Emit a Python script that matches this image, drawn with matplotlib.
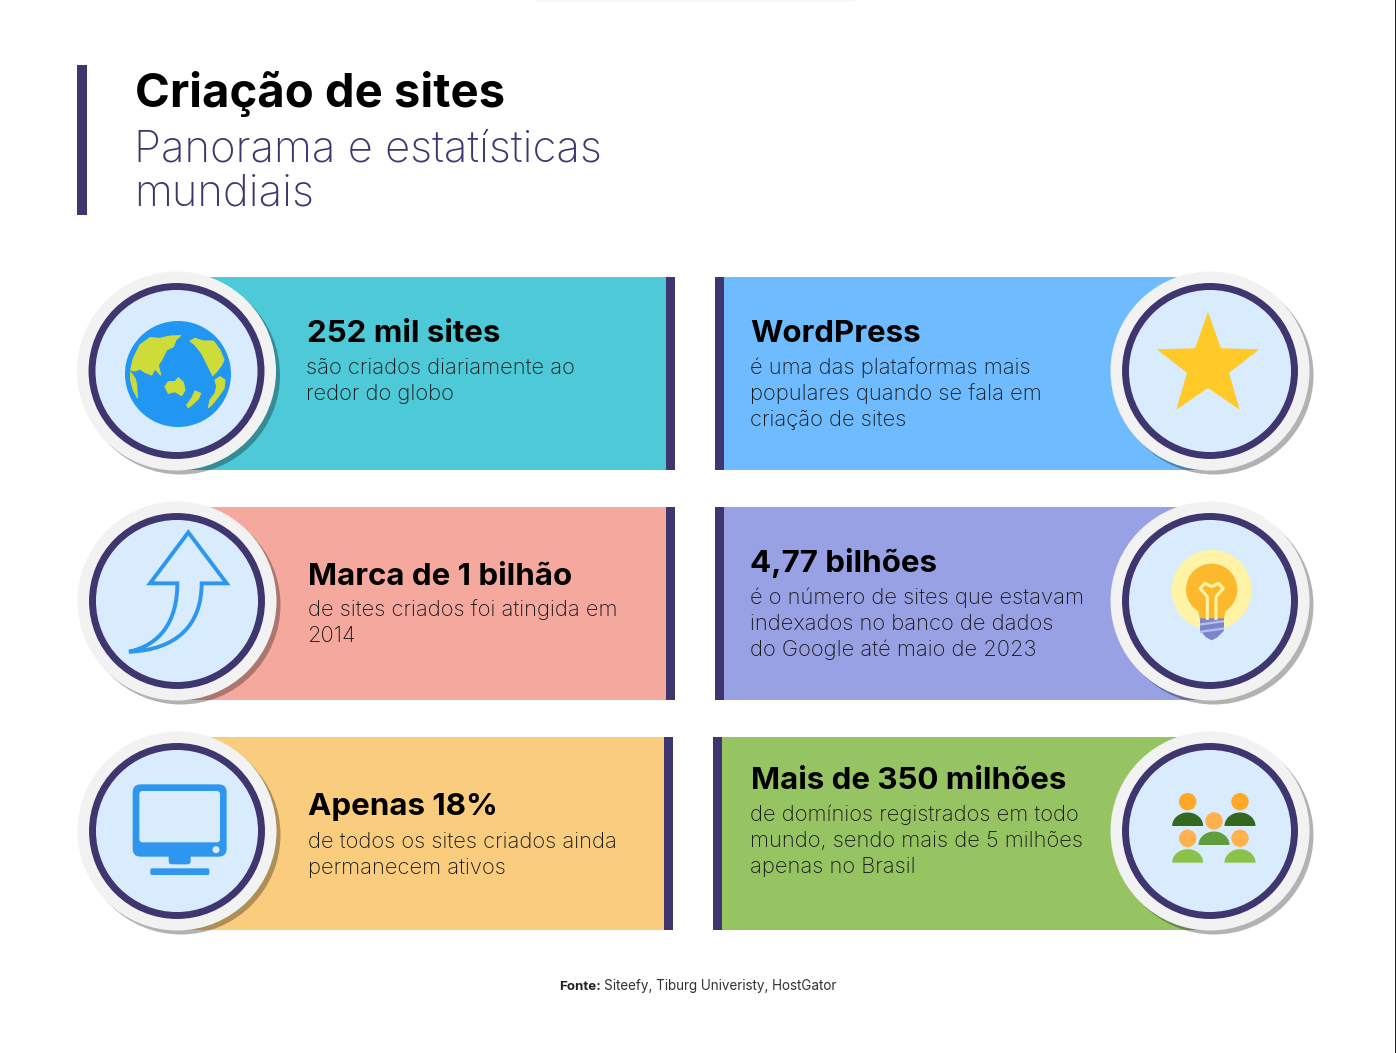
import numpy as np
import matplotlib
matplotlib.use("Agg")
import matplotlib.pyplot as plt
from matplotlib.patches import Circle, Rectangle, Polygon, FancyBboxPatch, PathPatch
from matplotlib.path import Path

plt.rcParams['font.family'] = ['Inter', 'DejaVu Sans']

NAVY = "#3f3670"
ICON_BLUE = "#2e96ee"
PALE = "#d8ecfd"

titles = ["252 mil sites", "WordPress", "Marca de 1 bilhão", "4,77 bilhões", "Apenas 18%", "Mais de 350 milhões"]
bodies = [
    ["são criados diariamente ao", "redor do globo"],
    ["é uma das plataformas mais", "populares quando se fala em", "criação de sites"],
    ["de sites criados foi atingida em", "2014"],
    ["é o número de sites que estavam", "indexados no banco de dados", "do Google até maio de 2023"],
    ["de todos os sites criados ainda", "permanecem ativos"],
    ["de domínios registrados em todo", "mundo, sendo mais de 5 milhões", "apenas no Brasil"],
]
card_colors = ["#4ec9d8", "#6ebcff", "#f5a99e", "#98a1e3", "#f9cd7d", "#97c463"]

# card box: top, left, right, bar side
card_top = [277, 277, 507, 507, 737, 737]
card_x0 = [180, 715, 180, 715, 180, 713]
card_x1 = [675, 1210, 675, 1210, 673, 1210]
circle_xy = [(176.5, 371), (1210, 371), (177, 601), (1210, 601), (177, 831), (1210, 831)]
text_x = [307, 750, 308, 750, 308, 751]
title_base = [342, 342, 585, 572, 815, 789]
body_base = [373.5, 373.5, 616.5, 603.5, 847.5, 821]


def circle_badge(ax, x, y):
    ax.add_patch(Circle((x + 4, y + 4), 99.5, fc="black", alpha=0.3, lw=0, zorder=3))
    ax.add_patch(Circle((x, y), 99.5, fc="#f2f2f2", lw=0, zorder=4))
    ax.add_patch(Circle((x, y), 84.5, fc=PALE, ec=NAVY, lw=5.0, zorder=5))


def zoom_pts(pts, x0, y0):
    return [(x0 + a / 3, y0 + b / 3) for a, b in pts]


def draw_globe(ax):
    x0, y0 = 70, 265
    ax.add_patch(Circle((178, 374), 53, fc="#2196f3", lw=0, zorder=6))
    lands = [
        [(182, 315), (190, 280), (210, 240), (240, 218), (270, 220), (300, 213), (332, 212), (318, 225),
         (310, 245), (290, 255), (275, 285), (265, 300), (272, 330), (255, 312), (245, 330), (225, 322),
         (210, 312), (195, 318)],
        [(182, 322), (195, 340), (200, 360), (202, 398), (190, 375), (182, 345)],
        [(360, 228), (375, 220), (400, 228), (430, 228), (450, 255), (462, 285), (455, 300), (440, 320),
         (428, 332), (415, 305), (395, 265), (375, 240)],
        [(435, 345), (450, 335), (465, 345), (462, 370), (445, 395), (425, 420), (415, 428), (420, 405),
         (435, 385), (440, 365)],
        [(285, 365), (295, 350), (315, 350), (325, 338), (340, 352), (345, 375), (335, 392), (315, 380), (295, 385)],
        [(350, 420), (365, 400), (375, 378), (392, 385), (385, 402), (365, 420), (355, 428)],
    ]
    for land in lands:
        ax.add_patch(Polygon(zoom_pts(land, x0, y0), fc="#cddc39", ec="#cddc39", lw=0.8,
                             joinstyle="round", zorder=7))


def draw_star(ax):
    ang = np.deg2rad(-90 + 36 * np.arange(10))
    rad = np.where(np.arange(10) % 2 == 0, 54, 22)
    pts = np.column_stack([1208 + rad * np.cos(ang), 366 + rad * np.sin(ang)])
    ax.add_patch(Polygon(pts, fc="#ffca28", lw=0, zorder=6))


def draw_arrow(ax):
    x0, y0 = 70, 495
    verts = zoom_pts([(355, 112), (470, 265), (395, 265), (395, 390), (320, 465), (177, 470),
                      (270, 450), (322, 380), (322, 265), (240, 265), (355, 112)], x0, y0)
    codes = [Path.MOVETO, Path.LINETO, Path.LINETO, Path.CURVE4, Path.CURVE4, Path.CURVE4,
             Path.CURVE4, Path.CURVE4, Path.CURVE4, Path.LINETO, Path.CLOSEPOLY]
    ax.add_patch(PathPatch(Path(verts, codes), fc="none", ec=ICON_BLUE, lw=2.8, joinstyle="miter", zorder=6))


def draw_monitor(ax):
    def box(a, b, c, d, fc, r):
        ax.add_patch(FancyBboxPatch((70 + (a + r) / 3, 725 + (b + r) / 3), (c - a - 2 * r) / 3, (d - b - 2 * r) / 3,
                                    boxstyle="round,pad=%f,rounding_size=%f" % (r / 3, r / 3),
                                    fc=fc, lw=0, zorder=6))
    box(296, 385, 362, 418, ICON_BLUE, 10)
    box(188, 178, 470, 395, ICON_BLUE, 24)
    box(208, 198, 450, 352, PALE, 10)
    box(241, 430, 418, 450, ICON_BLUE, 5)
    ax.add_patch(Circle((70 + 438 / 3, 725 + 374 / 3), 3.5, fc=PALE, lw=0, zorder=7))


def draw_bulb(ax):
    x0, y0 = 1100, 500
    ax.add_patch(Circle((x0 + 335 / 3, y0 + 270 / 3), 40, fc="#fff3a6", lw=0, zorder=6))
    ax.add_patch(Circle((x0 + 335 / 3, y0 + 268 / 3), 25.7, fc="#fdb92e", lw=0, zorder=7))
    ax.add_patch(Polygon(zoom_pts([(292, 318), (378, 318), (372, 360), (300, 360)], x0, y0),
                         fc="#fdb92e", lw=0, zorder=7))
    ax.add_patch(Polygon(zoom_pts([(300, 355), (372, 355), (372, 392), (352, 412), (335, 421), (318, 412), (300, 392)], x0, y0),
                         fc="#7986cb", lw=0, zorder=8))
    for a in [370, 392]:
        ax.add_patch(Polygon(zoom_pts([(300, a), (372, a - 10), (372, a - 3), (300, a + 7)], x0, y0),
                             fc="#b6bdec", lw=0, zorder=9))
    fil = zoom_pts([(322, 355), (322, 290), (300, 265), (315, 250), (335, 260), (355, 250), (370, 265),
                    (348, 290), (348, 355)], x0, y0)
    ax.plot([p[0] for p in fil], [p[1] for p in fil], color="#fff3a6", lw=2.2, zorder=8, solid_joinstyle="round")


def draw_people(ax):
    x0, y0 = 1100, 730
    people = [(263, 215, "#ffa726", 288, "#33691e"), (420, 215, "#ffa726", 288, "#33691e"),
              (263, 325, "#ffb14d", 398, "#8bc34a"), (420, 325, "#ffb14d", 398, "#8bc34a"),
              (342, 273, "#ffb14d", 345, "#5f9e3a")]
    for hx, hy, hc, by, bc in people:
        ax.add_patch(Circle((x0 + hx / 3, y0 + hy / 3), 8.7, fc=hc, lw=0, zorder=7))
        t = np.linspace(np.pi, 2 * np.pi, 40)
        pts = np.column_stack([x0 + hx / 3 + 15.5 * np.cos(t), y0 + by / 3 + 13.5 * np.sin(t)])
        ax.add_patch(Polygon(pts, fc=bc, lw=0, zorder=6))


icons = [draw_globe, draw_star, draw_arrow, draw_bulb, draw_monitor, draw_people]

fig = plt.figure(figsize=(13.96, 10.53), dpi=100)
ax = fig.add_axes([0, 0, 1, 1])
ax.set_xlim(0, 1396)
ax.set_ylim(1053, 0)
ax.axis("off")

# faint strip at the top and page edge
ax.add_patch(Rectangle((535, 0), 320, 2, fc="#f7f7f7", lw=0))
ax.add_patch(Rectangle((1395, 0), 1, 1053, fc="#222222", lw=0))

# header
ax.add_patch(Rectangle((77, 65), 9.5, 149.5, fc=NAVY, lw=0))
ax.text(135, 107, "Criação de sites", fontsize=34, fontweight="bold", color="black")
ax.text(134, 161, "Panorama e estatísticas", fontsize=31.4, fontweight="light", color=NAVY)
ax.text(134, 206, "mundiais", fontsize=31.4, fontweight="light", color=NAVY)

# cards
for i in range(6):
    top = card_top[i]
    ax.add_patch(Rectangle((card_x0[i], top), card_x1[i] - card_x0[i], 193, fc=card_colors[i], lw=0, zorder=1))
    if i % 2 == 0:
        ax.add_patch(Rectangle((card_x1[i] - 9, top), 9, 193, fc=NAVY, lw=0, zorder=2))
    else:
        ax.add_patch(Rectangle((card_x0[i], top), 9, 193, fc=NAVY, lw=0, zorder=2))
    circle_badge(ax, *circle_xy[i])
    icons[i](ax)
    ax.text(text_x[i], title_base[i], titles[i], fontsize=22.5, fontweight="bold", color="black", zorder=10)
    for j, line in enumerate(bodies[i]):
        ax.text(text_x[i] - 0.5, body_base[i] + 26 * j, line, fontsize=15.8, fontweight="light",
                color="#1a1a1a", zorder=10)

# source
ax.text(559, 990, "Fonte:", fontsize=9.6, fontweight="bold", color="#222222")
ax.text(604, 990, "Siteefy, Tiburg Univeristy, HostGator", fontsize=9.7, color="#333333")

fig.savefig("out.png", dpi=100, facecolor="white")
